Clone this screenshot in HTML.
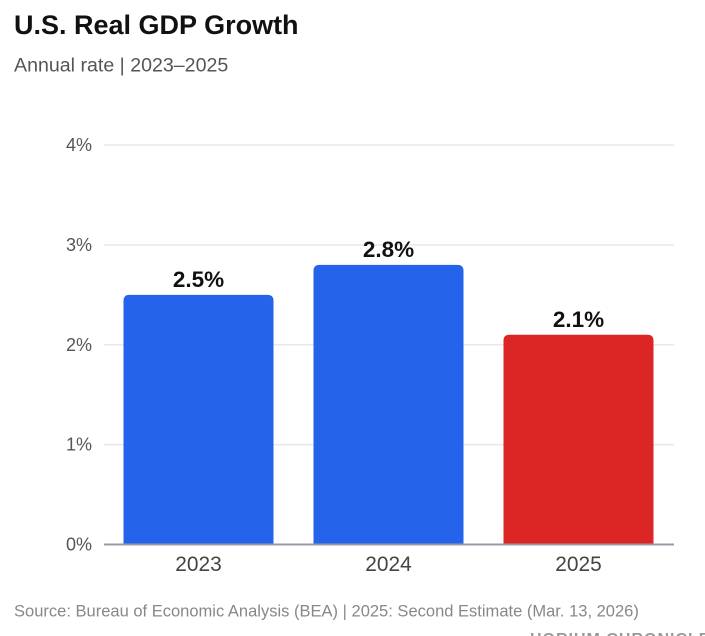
<!DOCTYPE html>
<html>
<head>
<meta charset="utf-8">
<style>
html,body{margin:0;padding:0;background:#fff;}
#wrap{position:relative;width:705px;height:636px;overflow:hidden;font-family:"Liberation Sans",sans-serif;}
svg{position:absolute;left:0;top:0;}
text{font-family:"Liberation Sans",sans-serif;}
</style>
</head>
<body>
<div id="wrap">
<svg id="chart" width="705" height="636" viewBox="0 0 705 636">
<text x="14" y="34" font-size="27" font-weight="700" fill="#111111">U.S. Real GDP Growth</text>
<text x="14" y="71.5" font-size="19.6" fill="#555555">Annual rate | 2023–2025</text>
<g id="grid"></g>
<g id="bars"></g>
<g id="labels"></g>
<text x="14" y="616.5" font-size="16.53" fill="#888888">Source: Bureau of Economic Analysis (BEA) | 2025: Second Estimate (Mar. 13, 2026)</text>
<text x="530" y="644" font-size="16" font-weight="700" fill="#999999" letter-spacing="1">HORIUM CHRONICLE</text>
</svg>
</div>
<script>
const categories = ["2023", "2024", "2025"];
const growthValues = [2.5, 2.8, 2.1];
const valueLabels = ["2.5%", "2.8%", "2.1%"];
const tickValues = [0, 1, 2, 3, 4];
const tickLabels = ["0%", "1%", "2%", "3%", "4%"];
const barColors = ["#2563eb", "#2563eb", "#dc2626"];

const NS = "http://www.w3.org/2000/svg";
const plotLeft = 104, plotRight = 674, plotBottom = 544.5, plotTop = 145;
const domainMax = 4;
const bandWidth = (plotRight - plotLeft) / categories.length;
const barWidth = 150;
function yScale(v) { return plotBottom - (v / domainMax) * (plotBottom - plotTop); }
function xCenter(i) { return plotLeft - 0.5 + bandWidth * (i + 0.5); }
function make(tag, attrs, parent, text) {
  const el = document.createElementNS(NS, tag);
  for (const k in attrs) el.setAttribute(k, attrs[k]);
  if (text !== undefined) el.textContent = text;
  parent.appendChild(el);
  return el;
}
const gridG = document.getElementById("grid");
const barsG = document.getElementById("bars");
const labelsG = document.getElementById("labels");

tickValues.forEach(function (t, i) {
  const y = yScale(t);
  if (t !== 0) {
    const line = make("line", { x1: plotLeft, x2: plotRight, y1: y, y2: y, stroke: "#e8e8ec", "stroke-width": 1.5 }, gridG);
    
    
  }
  const lab = make("text", { x: 92, y: y + 6, "text-anchor": "end", "font-size": 18, fill: "#555555" }, labelsG, tickLabels[i]);
  
  
});

categories.forEach(function (c, i) {
  const cx = xCenter(i);
  const top = yScale(growthValues[i]);
  const x = cx - barWidth / 2, r = 6, b = plotBottom;
  const bar = make("path", {
    d: "M" + x + " " + b + "V" + (top + r) + "Q" + x + " " + top + " " + (x + r) + " " + top +
       "H" + (x + barWidth - r) + "Q" + (x + barWidth) + " " + top + " " + (x + barWidth) + " " + (top + r) + "V" + b + "Z",
    fill: barColors[i]
  }, barsG);
  
  

  const val = make("text", { x: cx, y: top - 8, "text-anchor": "middle", "font-size": 22.5, "font-weight": 700, fill: "#111111" }, labelsG, valueLabels[i]);
  
  

  const cat = make("text", { x: cx, y: 571, "text-anchor": "middle", "font-size": 20.9, fill: "#444444" }, labelsG, c);
  
  
});

const axis = make("line", { x1: plotLeft, x2: plotRight, y1: plotBottom, y2: plotBottom, stroke: "#9a9aa6", "stroke-width": 2 }, gridG.parentNode);


</script>
</body>
</html>
